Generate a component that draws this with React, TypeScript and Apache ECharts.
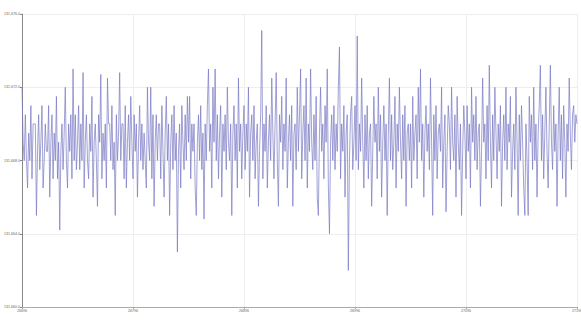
import React, { useEffect, useRef } from "react";
import * as echarts from "echarts";

const xStart = 26696;
const xStep = 1;
const yTicks = [131660, 131664, 131668, 131672, 131676];
const values: number[] = [
  131672, 131669, 131668, 131670.5, 131668, 131666.5, 131669.5, 131668, 131671, 131667, 131670, 131670, 131670, 131665, 131668.5, 131670.5, 131667.5, 131669, 131671, 131666.5, 131668, 131670, 131668.5, 131668.5, 131671, 131666, 131669, 131670.5, 131667, 131669.5, 131668, 131671.5, 131667, 131669, 131664.2, 131668.5, 131670, 131667.5, 131669.5, 131672, 131668, 131666.5, 131670, 131668.5, 131670.5, 131667, 131673, 131668, 131670.5, 131667.5,
  131669, 131671, 131667.5, 131670, 131668, 131672.8, 131666.5, 131669, 131670.5, 131668, 131667, 131670, 131668.5, 131671.5, 131666, 131669, 131670, 131668, 131665.5, 131670.5, 131669, 131672.7, 131667, 131669.5, 131668, 131670, 131666.5, 131672.5, 131670, 131670, 131668, 131671, 131667.5, 131669, 131665, 131670.5, 131668, 131669.5, 131672.8, 131668, 131670, 131670, 131667, 131671, 131666.5, 131669, 131670.5, 131668, 131671.5, 131669,
  131667, 131670.5, 131668.5, 131670, 131666, 131669, 131671, 131668, 131670, 131667.5, 131669.5, 131668, 131666.5, 131672, 131669, 131668, 131672, 131667, 131670.5, 131665.5, 131669, 131670.5, 131668, 131670, 131670, 131667, 131671, 131668.5, 131666, 131669.5, 131671.5, 131668, 131670, 131665, 131669, 131670.5, 131667.5, 131671, 131668, 131669.5, 131663, 131668.5, 131670, 131666.5, 131671, 131669, 131667.5, 131670.5, 131668, 131671.5,
  131669, 131671.5, 131667, 131670, 131668.5, 131670, 131666.5, 131665, 131669, 131670.5, 131668, 131671, 131667.5, 131669.5, 131664.8, 131670, 131668, 131671, 131673, 131668.5, 131670, 131666.5, 131672, 131669, 131673, 131668, 131670.5, 131667, 131669.5, 131671, 131666, 131670, 131668.5, 131670.5, 131667.5, 131672, 131669, 131668, 131670, 131665, 131669.5, 131671, 131668, 131670, 131666.5, 131672.5, 131668.5, 131670, 131667, 131669.5,
  131671, 131667.5, 131670, 131668.5, 131672, 131666, 131669.5, 131670.5, 131668, 131671, 131667, 131669, 131670, 131665.5, 131668.5, 131670.5, 131675.1, 131667, 131670, 131668.5, 131671, 131666.5, 131669, 131670.5, 131668, 131672.5, 131669.5, 131667, 131670, 131672.8, 131668, 131665.5, 131670.5, 131669, 131671.5, 131667.5, 131670, 131668.5, 131672.5, 131666.5, 131669, 131670.5, 131668, 131671, 131665.5, 131669.5, 131670, 131667.5, 131672, 131668.5,
  131670.5, 131673, 131667, 131669.5, 131671, 131668, 131672.5, 131666.5, 131670, 131668.5, 131673, 131669, 131667.5, 131670.5, 131668, 131671.5, 131666, 131665, 131669.5, 131672, 131668.5, 131670, 131667, 131671, 131669, 131673, 131666.5, 131664, 131669, 131670.5, 131668, 131671, 131667.5, 131670, 131668.5, 131672, 131674.2, 131667, 131670, 131668.5, 131671, 131666, 131669.5, 131670.5, 131662, 131668, 131670.5, 131671.5, 131667.5, 131669,
  131671, 131668, 131674.8, 131667.5, 131670, 131668.5, 131672.5, 131669, 131666.5, 131670.5, 131668, 131671, 131667, 131669.5, 131670, 131665.5, 131668.5, 131671.5, 131669, 131670, 131667, 131672, 131668.5, 131670.5, 131666, 131669, 131671, 131668, 131670, 131665, 131669.5, 131672.5, 131668, 131670.5, 131667.5, 131669, 131671.5, 131666.5, 131670, 131668.5, 131672, 131669, 131667, 131670.5, 131668, 131671, 131665.5, 131669.5, 131670, 131668,
  131670, 131666.5, 131671.5, 131668, 131669.5, 131670.5, 131667, 131672, 131669, 131673, 131668, 131670, 131666, 131669.5, 131671, 131668.5, 131670, 131667.5, 131672.5, 131669, 131665, 131670.5, 131668, 131671, 131667, 131669.5, 131670, 131668.5, 131672, 131666.5, 131669, 131670.5, 131665.2, 131668.5, 131671, 131670, 131667.5, 131672, 131669, 131668, 131670.5, 131666, 131671.5, 131669, 131667.5, 131670, 131665, 131668.5, 131671, 131669.5,
  131667, 131671, 131668.5, 131670, 131666.5, 131672, 131669, 131670.5, 131668, 131671.5, 131667.5, 131669.5, 131670, 131665.5, 131668.5, 131672.5, 131669, 131670, 131667, 131671, 131668, 131673.2, 131669, 131666.5, 131670.5, 131668, 131672, 131669.5, 131667, 131670, 131668.5, 131671, 131665.5, 131669, 131670.5, 131668, 131672, 131667.5, 131670, 131669, 131671.5, 131666, 131668.5, 131670, 131667.5, 131672, 131669, 131665, 131670.5, 131668,
  131671, 131669, 131666.5, 131665, 131670, 131668, 131665, 131671.5, 131669, 131670.5, 131667.5, 131672, 131668, 131670, 131666, 131669.5, 131671, 131673.2, 131668, 131670.5, 131667, 131669.5, 131672, 131668.5, 131666.5, 131670, 131673.2, 131669, 131667.5, 131671, 131668.5, 131670, 131665.5, 131669.5, 131672, 131668, 131670.5, 131667, 131671, 131669, 131666, 131670, 131668.5, 131672.5, 131669.5, 131667.5, 131670.5, 131671, 131669, 131670.5,
  131670,
];
const categories = values.map((_, i) => String(xStart + i * xStep));

export default function App() {
  const ref = useRef<HTMLDivElement>(null);
  useEffect(() => {
    if (!ref.current) return;
    const chart = echarts.init(ref.current, null, { renderer: "svg" });
    chart.setOption({
      animation: false,
      grid: { left: 22, right: 4, top: 14, bottom: 13, containLabel: false, outerBoundsMode: "none" },
      xAxis: {
        type: "category",
        data: categories,
        boundaryGap: false,
        axisLine: { lineStyle: { color: "#aaaaaa", width: 1 } },
        axisTick: { show: true, interval: 99, length: 2, lineStyle: { color: "#aaaaaa" } },
        axisLabel: { interval: 99, fontSize: 3.6, color: "#666", margin: 2, fontFamily: "Liberation Sans" },
        splitLine: { show: true, interval: 99, lineStyle: { color: "#eeeeee", width: 1 } },
      },
      yAxis: {
        type: "value",
        min: yTicks[0],
        max: yTicks[yTicks.length - 1],
        interval: 4,
        axisLine: { show: true, lineStyle: { color: "#888888", width: 1 } },
        axisTick: { show: true, length: 2, lineStyle: { color: "#888888" } },
        axisLabel: {
          fontSize: 3.6,
          color: "#666",
          margin: 2,
          fontFamily: "Liberation Sans",
          formatter: (v: number) => v.toLocaleString("en-US", { minimumFractionDigits: 1, maximumFractionDigits: 1 }),
        },
        splitLine: { show: true, lineStyle: { color: "#eeeeee", width: 1 } },
      },
      series: [
        {
          type: "line",
          data: values,
          showSymbol: false,
          lineStyle: { color: "#7878c4", width: 0.7 },
        },
      ],
    });
    return () => chart.dispose();
  }, []);
  return <div ref={ref} style={{ position: "fixed", left: 0, top: 0, width: 581, height: 320, background: "#fff" }} />;
}
